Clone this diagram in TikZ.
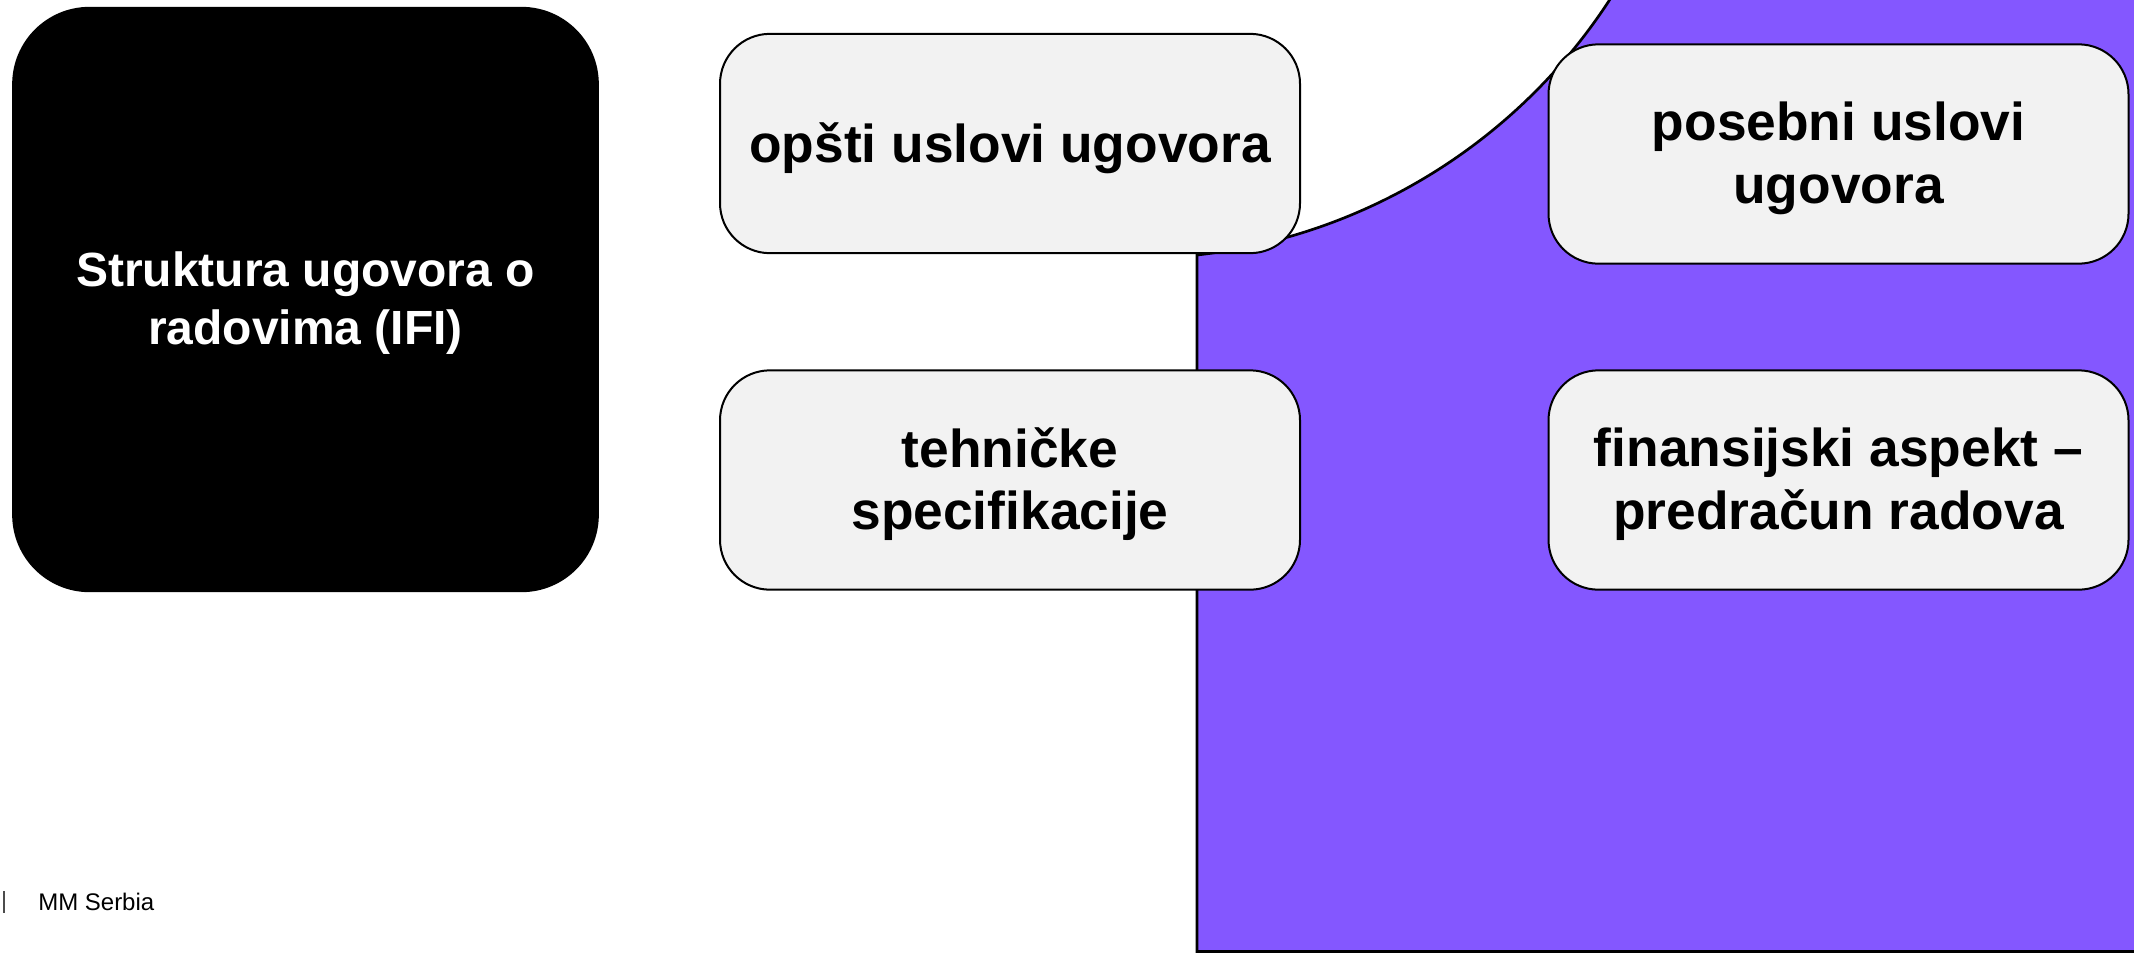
\documentclass[tikz,border=0pt]{standalone}
\usepackage{fontspec}
\setmainfont{Liberation Sans}
\usepackage{xcolor}
\usetikzlibrary{positioning}
\definecolor{accent}{RGB}{132,87,255}
\definecolor{cardgray}{RGB}{242,242,242}

\begin{document}
\begin{tikzpicture}[
        x=0.75pt, y=-0.75pt,
        card/.style={rectangle, rounded corners=37.5pt, draw=black, line width=1.5pt, fill=cardgray,
            minimum width=435pt, minimum height=164.5pt, align=center, text depth=2pt,
            font=\bfseries\fontsize{40}{47}\selectfont},
        titlecard/.style={rectangle, rounded corners=58pt, fill=black, text=white,
            minimum width=440pt, minimum height=439pt, align=center, text depth=2pt,
            font=\bfseries\fontsize{36}{44}\selectfont}
    ]
        \def\colA{1010}
        \def\colB{1838.5}
        \useasboundingbox (0,0) rectangle (2134,954);

        % purple backdrop with the round cut
        \begin{scope}
            \clip (0,0) rectangle (2134,954);
            \draw[fill=accent, line width=2pt] (1197,951.5) -- (1197,255)
                arc[start angle=83.5, end angle=33, radius=569]
                -- ++(0,-30) -- (2140,-30) -- (2140,951.5) -- cycle;
        \end{scope}

        \node[titlecard] (title) at (305.5,299.5) {Struktura ugovora o\\radovima (IFI)};

        \node[card] (opsti)     at (\colA,143.5) {opšti uslovi ugovora};
        \node[card] (posebni)   at (\colB,154)   {posebni uslovi\\ugovora};
        \node[card] (tehnicke)  at (\colA,480)   {tehničke\\specifikacije};
        \node[card] (finansije) at (\colB,480)   {finansijski aspekt –\\predračun radova};

        \node[anchor=west, inner sep=0pt, font=\fontsize{18}{22}\selectfont] (footer) at (38,902) {MM Serbia};
        \draw[black!70, line width=0.8pt] (4,891) -- (4,913);
    \end{tikzpicture}
\end{document}
